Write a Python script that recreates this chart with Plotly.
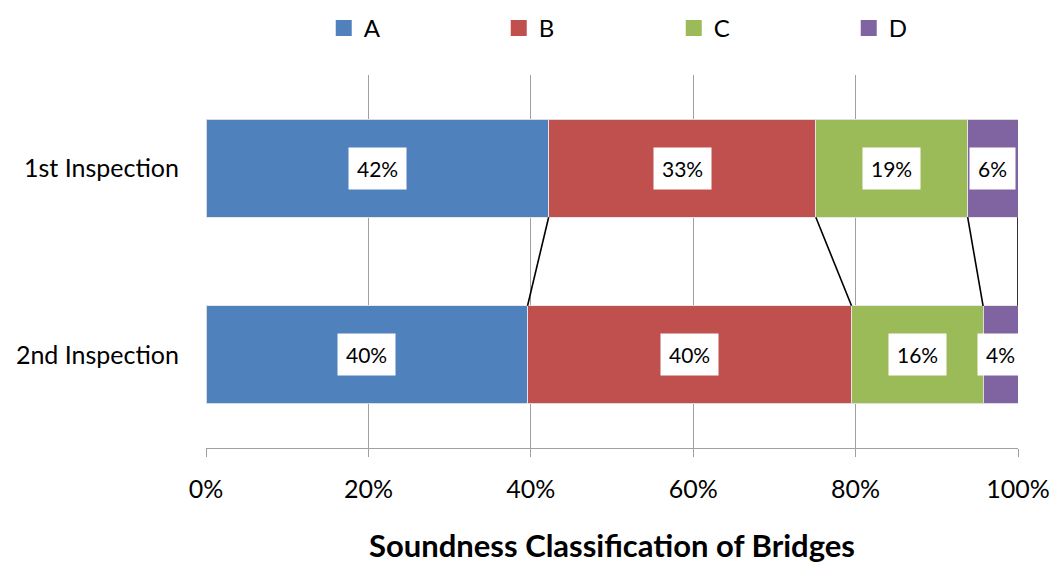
import plotly.graph_objects as go

# Share of bridges in each soundness class (percent)
classes = ["A", "B", "C", "D"]
inspections = ["1st Inspection", "2nd Inspection"]
first_inspection = [42.2, 32.9, 18.7, 6.2]
second_inspection = [39.6, 39.9, 16.2, 4.3]
x_ticks = [0, 20, 40, 60, 80, 100]
x_tick_labels = ["0%", "20%", "40%", "60%", "80%", "100%"]

colors = ["#4F81BD", "#C0504D", "#9BBB59", "#8064A2"]
FONT = "Lato"
BAR_W = 0.525
y_pos = [1, 0]  # 1st inspection on top

fig = go.Figure()

for i, cls in enumerate(classes):
    fig.add_trace(go.Bar(
        orientation="h",
        y=y_pos,
        x=[first_inspection[i], second_inspection[i]],
        width=BAR_W,
        name=cls,
        marker=dict(color=colors[i], line=dict(color="rgba(230,230,230,0.9)", width=1)),
        showlegend=False,
        hoverinfo="skip",
    ))
    # legend swatch
    fig.add_trace(go.Scatter(
        x=[None], y=[None], mode="markers", name=cls,
        marker=dict(symbol="square", size=18, color=colors[i]),
    ))

# series lines joining the class boundaries of the two bars
def cumulative(vals):
    out, s = [], 0
    for v in vals:
        s += v
        out.append(s)
    return out

cum1 = cumulative(first_inspection)
cum2 = cumulative(second_inspection)
for a, b in zip(cum1, cum2):
    fig.add_trace(go.Scatter(
        x=[a, b], y=[1 - BAR_W / 2, 0 + BAR_W / 2],
        mode="lines", line=dict(color="black", width=1.6),
        showlegend=False, hoverinfo="skip",
    ))

# value labels in white boxes at segment centres
for vals, cums, yv in ((first_inspection, cum1, 1), (second_inspection, cum2, 0)):
    for v, c in zip(vals, cums):
        fig.add_annotation(
            x=c - v / 2, y=yv, xref="x", yref="y",
            text=f"{round(v)}%", showarrow=False,
            font=dict(family=FONT, size=21, color="black"),
            bgcolor="white", borderpad=8,
        )

fig.add_annotation(
    x=0.5, y=0, xref="paper", yref="paper", yanchor="middle",
    yshift=-97, showarrow=False,
    text="<b>Soundness Classification of Bridges</b>",
    font=dict(family=FONT, size=31, color="black"),
)

fig.update_layout(
    width=1054, height=565,
    margin=dict(l=206, r=36, t=75, b=117, autoexpand=False),
    paper_bgcolor="white", plot_bgcolor="white",
    barmode="stack",
    font=dict(family=FONT, size=25, color="black"),
    legend=dict(
        orientation="h", traceorder="normal",
        x=0.145, xanchor="left", y=1.125, yanchor="middle",
        entrywidth=130, entrywidthmode="pixels", itemwidth=30,
        font=dict(family=FONT, size=24), tracegroupgap=0,
        bgcolor="rgba(0,0,0,0)",
    ),
    xaxis=dict(
        range=[0, 100], tickvals=x_ticks, ticktext=x_tick_labels,
        showgrid=True, gridcolor="#A0A0A0", gridwidth=1.3,
        showline=True, linecolor="#A0A0A0", linewidth=1.3,
        ticks="outside", ticklen=8, tickcolor="#A0A0A0", tickwidth=1.3,
        ticklabelstandoff=11, zeroline=False,
        tickfont=dict(family=FONT, size=25),
    ),
    yaxis=dict(
        range=[-0.5, 1.5], tickvals=y_pos, ticktext=inspections,
        showgrid=False, zeroline=False, showline=False,
        ticks="", ticklabelstandoff=26,
        tickfont=dict(family=FONT, size=25),
    ),
)

fig.write_html("out.html")
